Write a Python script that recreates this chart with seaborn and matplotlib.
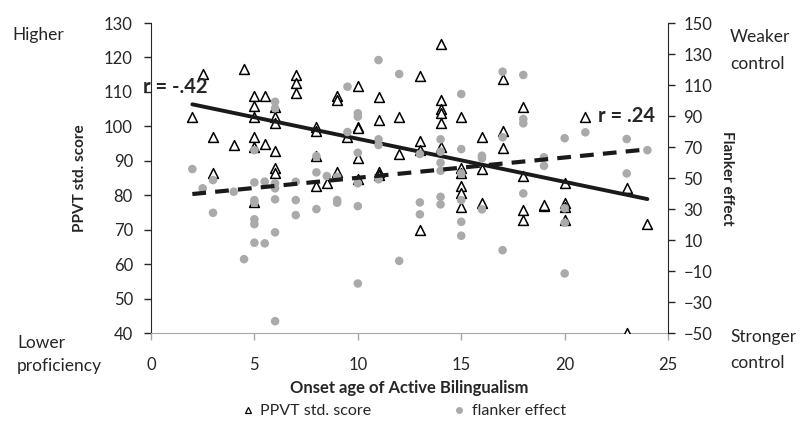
import numpy as np
import pandas as pd
import matplotlib
matplotlib.use('Agg')
import matplotlib.pyplot as plt
from matplotlib.lines import Line2D
import seaborn as sns

sns.set_style('white')
plt.rcParams['font.family'] = ['Lato', 'DejaVu Sans']

INK = '#262626'; GREY = '#aaaaaa'; AXGREY = '#a6a6a6'

# ── PPVT standard scores (left axis) ──────────────────────────────────────
ppvt_age = [2, 2.5, 3, 3, 4, 4.5,
            5, 5, 5, 5, 5, 5, 5.5, 5.5,
            6, 6, 6, 6, 6, 6, 7, 7, 7,
            8, 8, 8, 8, 8.5, 9, 9, 9, 9.5,
            10, 10, 10, 10, 10, 11, 11, 11, 11, 12, 12,
            13, 13, 13, 13, 14, 14, 14, 14, 14, 14,
            15, 15, 15, 15, 15, 15, 16, 16, 16, 17, 17, 17,
            18, 18, 18, 18, 19, 19, 20, 20, 20, 20, 21, 23, 23, 24]
ppvt = [102.6, 115.1, 96.8, 86.5, 94.6, 116.7,
        108.8, 105.9, 102.8, 96.8, 94.0, 78.0, 108.8, 94.8,
        105.5, 102.8, 100.9, 92.8, 88.0, 86.5, 114.9, 112.7, 109.8,
        99.9, 98.7, 91.5, 82.8, 83.6, 108.8, 107.7, 86.8, 96.8,
        111.7, 99.9, 99.4, 90.9, 84.6, 108.6, 101.8, 86.8, 85.9, 102.8, 91.9,
        114.6, 95.8, 93.1, 69.9, 123.8, 107.7, 105.0, 104.0, 100.9, 94.1,
        102.8, 87.8, 86.5, 82.8, 80.7, 76.7, 96.8, 87.6, 77.8, 113.7, 98.7, 93.8,
        105.5, 85.6, 75.7, 72.8, 76.9, 77.1, 83.6, 77.8, 76.5, 72.8, 102.6, 82.0, 40.0, 71.8]

# ── Flanker effect (right axis) ───────────────────────────────────────────
flk_age = [2, 2.5, 3, 3, 4, 4.5,
           5, 5, 5, 5, 5, 5, 5, 5.5, 5.5,
           6, 6, 6, 6, 6, 6, 6, 7, 7, 7,
           8, 8, 8, 8.5, 9, 9, 9, 9.5, 9.5,
           10, 10, 10, 10, 10, 10, 11, 11, 11, 11, 12, 12,
           13, 13, 13, 14, 14, 14, 14, 14, 14,
           15, 15, 15, 15, 15, 15, 16, 16, 16, 17, 17, 17,
           18, 18, 18, 18, 19, 19, 20, 20, 20, 20, 21, 23, 23, 24]
flanker = [55.8, 43.4, 48.7, 27.6, 41.2, -2.3,
           68.0, 47.2, 35.8, 34.1, 23.4, 20.3, 8.3, 47.7, 7.9,
           99.2, 95.0, 46.6, 43.4, 36.3, 15.0, -42.3, 47.6, 35.8, 26.1,
           64.2, 53.7, 30.0, 51.3, 50.8, 35.8, 34.1, 108.9, 79.7,
           91.8, 89.6, 66.3, 46.6, 31.9, -18.0, 126.1, 75.0, 71.3, 49.2, 117.1, -3.4,
           65.5, 34.3, 26.6, 75.0, 67.0, 59.9, 54.7, 37.9, 33.0,
           104.2, 68.7, 53.0, 35.8, 21.8, 12.8, 64.4, 62.7, 29.8, 118.6, 76.3, 3.5,
           116.5, 88.1, 85.3, 40.1, 63.4, 57.9, 75.7, 30.5, 21.2, -11.5, 79.5, 75.2, 53.0, 68.0]

# linear trend end points
trend_age = [2, 24]
ppvt_trend = [106.4, 78.9]
flk_trend = [39.7, 68.5]

df_p = pd.DataFrame({'age': ppvt_age, 'score': ppvt})
df_f = pd.DataFrame({'age': flk_age, 'effect': flanker})

fig = plt.figure(figsize=(8.03, 4.26), dpi=100)
ax = fig.add_axes([0.188, 0.218, 0.644, 0.728])
ax2 = ax.twinx()

sns.scatterplot(data=df_p, x='age', y='score', ax=ax, marker='^', s=50,
                facecolor='white', edgecolor='black', linewidth=1.1, zorder=3)
sns.lineplot(x=trend_age, y=ppvt_trend, ax=ax, color='#1a1a1a', lw=2.8, zorder=4)

sns.scatterplot(data=df_f, x='age', y='effect', ax=ax2, marker='o', s=38,
                color=GREY, edgecolor='none', zorder=3)
sns.lineplot(x=trend_age, y=flk_trend, ax=ax2, color='#1a1a1a', lw=3,
             linestyle=(0, (3.3, 2.2)), zorder=4)

ax.set_xlim(0, 25); ax.set_ylim(40, 130)
ax2.set_ylim(-50, 150)
ax.set_xticks(range(0, 26, 5))
ax.set_yticks(range(40, 131, 10))
ax2.set_yticks(range(-50, 151, 20))
ax2.set_yticklabels([str(v).replace('-', '\u2212') for v in range(-50, 151, 20)])

for a in (ax, ax2):
    for sp in a.spines.values():
        sp.set_visible(False)
ax.spines['left'].set_visible(True); ax.spines['left'].set_color(INK)
ax.spines['bottom'].set_visible(True); ax.spines['bottom'].set_color(AXGREY)
ax2.spines['right'].set_visible(True); ax2.spines['right'].set_color(INK)

ax.tick_params(axis='y', direction='out', length=5, width=1, color=INK,
               labelsize=12, labelcolor=INK, left=True, pad=8)
ax.tick_params(axis='x', direction='out', length=5, width=1, color=AXGREY,
               labelsize=12, labelcolor=INK, bottom=True, pad=12)
ax2.tick_params(axis='y', direction='out', length=5, width=1, color=INK,
                labelsize=12, labelcolor=INK, right=True, pad=6)

ax.set_xlabel('Onset age of Active Bilingualism', fontsize=12,
              fontweight='bold', color=INK, labelpad=5)
ax.set_ylabel('PPVT std. score', fontsize=11, fontweight='bold', color=INK, labelpad=12)
ax2.set_ylabel('Flanker effect', fontsize=11, fontweight='bold', color=INK,
               rotation=270, labelpad=16)

ax.text(-0.39, 111.4, 'r = -.42', fontsize=14.5, fontweight='bold', color=INK,
        ha='left', va='center', clip_on=False, zorder=5)
ax.text(21.62, 103.0, 'r = .24', fontsize=14.5, fontweight='bold', color=INK,
        ha='left', va='center', zorder=5)

# corner captions, one line each
for txt, px, py in [('Higher', 12, 35), ('Lower', 17, 343), ('proficiency', 17, 366),
                    ('Weaker', 730, 37), ('control', 730, 64),
                    ('Stronger', 730, 337), ('control', 730, 363)]:
    fig.text(px/803, 1-py/426, txt, fontsize=12.5, color=INK, ha='left', va='center')

handles = [Line2D([], [], marker='^', ls='', ms=5, mfc='white', mec='black', mew=0.9),
           Line2D([], [], marker='o', ls='', ms=5, mfc=GREY, mec='none')]
fig.legend(handles, ['PPVT std. score', 'flanker effect'], loc='center',
           bbox_to_anchor=(403/803, 1-411/426), ncol=2, frameon=False,
           fontsize=11.5, handletextpad=0.3, columnspacing=5, handlelength=1,
           labelcolor=INK, borderpad=0)

fig.savefig('out.png', dpi=100, facecolor='white')
